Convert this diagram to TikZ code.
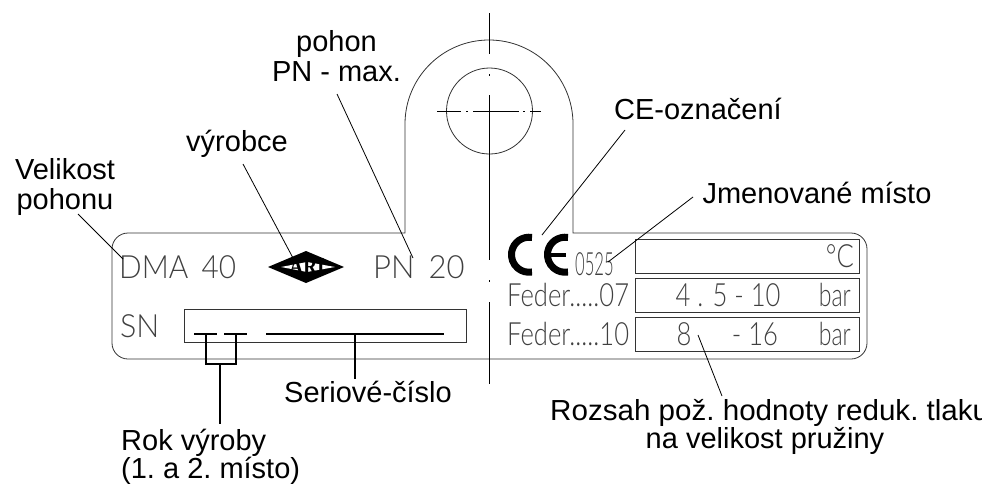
\documentclass[tikz,border=0pt]{standalone}
\usepackage{fontspec}
\setmainfont{Liberation Sans}
\newfontfamily\platefont{Lato Light}
\newfontfamily\logofont{Liberation Serif}
\tikzset{
    caption/.style={font=\fontsize{29}{30}\selectfont\frenchspacing, align=center, inner sep=0pt, anchor=base, text=black},
    plate/.style={font=\platefont\fontsize{32}{34}\selectfont, inner sep=0pt, text=black!75},
    outline/.style={draw=black!80, line width=0.8pt},
    leader/.style={draw=black, line width=0.8pt},
    bracket/.style={draw=black, line width=1.6pt},
    field/.style={outline, minimum width=224pt, minimum height=34pt, inner sep=0pt}
}
\begin{document}
\begin{tikzpicture}[x=1pt, y=-1pt]
    \useasboundingbox (0,0) rectangle (982,483);

    \draw[outline] (405,233) -- (405,124) arc[start angle=180, end angle=360, radius=84] -- (573,233)
        -- (851,233) arc[start angle=270, end angle=360, radius=16] -- (867,343)
        arc[start angle=0, end angle=90, radius=16] -- (128,359)
        arc[start angle=90, end angle=180, radius=16] -- (112,249)
        arc[start angle=180, end angle=270, radius=16] -- cycle;
    \draw[outline] (489.5,111) circle (43);

    \draw[leader] (489,13) -- (489,54) (489,74) -- (489,76) (489,95) -- (489,260)
        (489,280) -- (489,282) (489,302) -- (489,384);
    \draw[leader] (437,111) -- (461,111) (466,111) -- (468,111) (473,111) -- (519,111)
        (523,111) -- (525,111) (530,111) -- (541,111);

    \node[outline, minimum width=282pt, minimum height=33pt, inner sep=0pt] (snbox) at (325,325.5) {};
    \node[field] (box1) at (747,256) {};
    \node[field] (box2) at (747,295) {};
    \node[field] (box3) at (747,334) {};

    \node[plate, anchor=west, xscale=0.93] (dma) at (119,267) {DMA\hspace{0.45em}40};
    \node[plate, anchor=west, xscale=0.97] (pn) at (373,267) {PN\hspace{0.45em}20};
    \node[plate, anchor=west, xscale=0.95] (sn) at (120,326) {SN};
    \node[plate, anchor=west, xscale=0.8] (feder1) at (507,295) {Feder.....07};
    \node[plate, anchor=west, xscale=0.8] (feder2) at (507,334) {Feder.....10};
    \node[plate, anchor=west, xscale=0.52] (nr) at (575,264.5) {0525};
    \node[plate, anchor=east, xscale=0.8] (deg) at (854,256) {°C};
    \node[plate, anchor=east, xscale=0.72] (bar1) at (851,295) {bar};
    \node[plate, anchor=east, xscale=0.72] (bar2) at (851,334) {bar};
    \node[plate, xscale=0.8] (val1) at (728,295) {4 . 5 - 10};
    \node[plate, xscale=0.8] (val2a) at (684,334) {8};
    \node[plate, xscale=0.8] (val2b) at (755,334) {- 16};

    \fill[black] (268,267) -- (306,251) -- (344,267) -- (306,283) -- cycle;
    \fill[white] (281,267) -- (307,262) -- (335,267) -- (307,272) -- cycle;
    \node[font=\logofont\bfseries\fontsize{24}{24}\selectfont, text=black, inner sep=0pt, xscale=0.8] (ari) at (307,267) {ARI};

    \draw[black, line width=7pt] (532,237.5) arc[start angle=280, end angle=80, radius=17.5];
    \draw[black, line width=7pt] (568,237.5) arc[start angle=280, end angle=80, radius=17.5];
    \draw[black, line width=4pt] (548,254.5) -- (566,254.5);

    \node[caption] (velikost) at (65,209) {Velikost\\pohonu};
    \node[caption] (vyrobce) at (237,151) {výrobce};
    \node[caption] (pohon) at (336.5,81) {pohon\\PN - max.};
    \node[caption] (ce) at (698,119) {CE-označení};
    \node[caption] (misto) at (817,203) {Jmenované místo};
    \node[caption] (serial) at (368,402) {Seriové-číslo};
    \node[caption, font=\fontsize{29}{28}\selectfont\frenchspacing, align=left, anchor=base west] (rok) at (121,478) {Rok výroby\\(1. a 2. místo)};
    \node[caption, anchor=base west, xscale=1.02] (rozsah) at (550,420) {Rozsah pož. hodnoty reduk. tlaku};
    \node[caption] (pruzina) at (765,448) {na velikost pružiny};

    \coordinate (velikostend) at (78,214);
    \coordinate (dmaend) at (123,259);
    \coordinate (vyrobceend) at (243,164);
    \coordinate (ariend) at (293,258);
    \coordinate (pohonend) at (337,94);
    \coordinate (pnend) at (413,258);
    \coordinate (ceend) at (625,130);
    \coordinate (cemark) at (542,235);
    \coordinate (mistoend) at (693,197);
    \coordinate (nrend) at (608,262);
    \coordinate (rozsahend) at (722,396);
    \coordinate (valend) at (698,335);

    \path[leader] (velikostend) edge (dmaend)
        (vyrobceend) edge (ariend)
        (pohonend) edge (pnend)
        (ceend) edge (cemark)
        (mistoend) edge (nrend)
        (rozsahend) edge (valend);

    \coordinate (y1a) at (194,334);
    \coordinate (y1b) at (217,334);
    \coordinate (y2a) at (224,334);
    \coordinate (y2b) at (247,334);
    \coordinate (numa) at (266,334);
    \coordinate (numb) at (444,334);
    \coordinate (y1s) at (206,334);
    \coordinate (y2s) at (236,334);
    \coordinate (y1c) at (206,364);
    \coordinate (y2c) at (236,364);
    \coordinate (yc) at (220,364);
    \coordinate (rokend) at (220,424);
    \coordinate (nums) at (355,334);
    \coordinate (serialend) at (355,379);

    \path[bracket] (y1a) edge (y1b)
        (y2a) edge (y2b)
        (numa) edge (numb)
        (yc) edge (rokend)
        (nums) edge (serialend);
    \draw[bracket] (y1s) -- (y1c) -- (y2c) -- (y2s);
\end{tikzpicture}
\end{document}
